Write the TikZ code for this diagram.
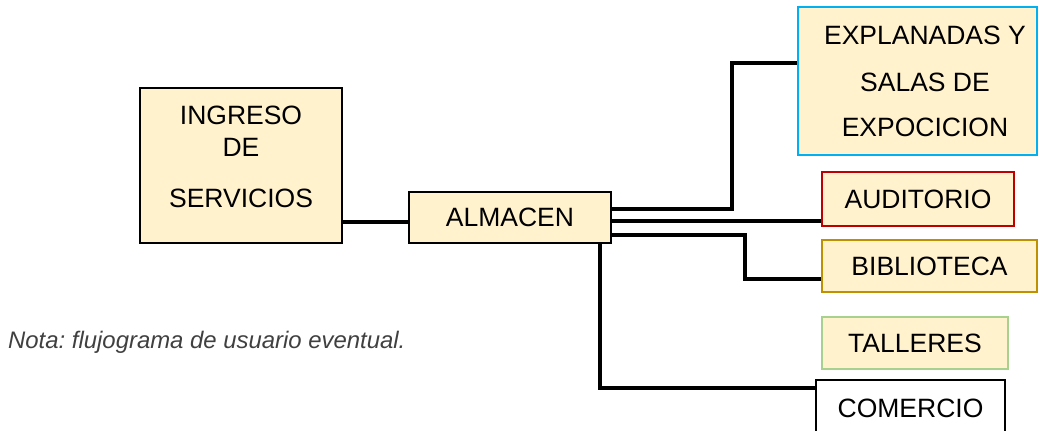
\documentclass[tikz,border=0pt]{standalone}
\usepackage{fontspec}
\setmainfont{Liberation Sans}
\frenchspacing
\definecolor{cream}{HTML}{FFF2CC}
\definecolor{bblue}{HTML}{00B0F0}
\definecolor{bred}{HTML}{C00000}
\definecolor{bgold}{HTML}{BF9000}
\definecolor{bgreen}{HTML}{A9D18E}
\definecolor{notegray}{HTML}{404040}
\begin{document}
\begin{tikzpicture}[x=1pt,y=-1pt,
  box/.style={draw=black,fill=cream,line width=2.6pt,inner sep=0pt,
    font=\fontsize{26.5}{32}\selectfont},
  txt/.style={inner sep=0pt,font=\fontsize{26.5}{32}\selectfont},
  conn/.style={draw=black,line width=3.2pt}]
\useasboundingbox (0,0) rectangle (1039,431);
\begin{scope}
\clip (0,0) rectangle (1039,431);
% boxes
\node[box,minimum width=202pt,minimum height=155pt] (ing) at (241,165.5) {};
\node[txt] (ingt1) at (241,115) {INGRESO};
\node[txt] (ingt2) at (241,147) {DE};
\node[txt] (ingt3) at (241,198) {SERVICIOS};
\node[box,minimum width=202pt,minimum height=51pt] (alm) at (510,217.5) {ALMACEN};
\node[box,draw=bblue,minimum width=239pt,minimum height=148pt] (expl) at (917.5,81) {};
\node[txt] (explt1) at (925,35) {EXPLANADAS Y};
\node[txt] (explt2) at (925,82) {SALAS DE};
\node[txt] (explt3) at (925,127) {EXPOCICION};
\node[box,draw=bred,minimum width=192pt,minimum height=54pt] (aud) at (918,199) {AUDITORIO};
\node[box,draw=bgold,minimum width=215pt,minimum height=52pt] (bib) at (929.5,266) {BIBLIOTECA};
\node[box,draw=bgreen,minimum width=186pt,minimum height=52pt] (tal) at (915,343) {TALLERES};
\node[box,fill=white,minimum width=189pt,minimum height=56pt] (com) at (910.5,408) {COMERCIO};
% connectors
\coordinate (j1) at (732,63);
\coordinate (j3) at (745,279);
\coordinate (j4) at (600,388);
\draw[conn] (ing.east|-0,222) -- (alm.west|-0,222);
\draw[conn] (alm.east|-0,209) -| (j1) -- (expl.west|-j1);
\draw[conn] (alm.east|-0,221) -- (aud.west|-0,221);
\draw[conn] (alm.east|-0,235) -| (j3) -- (bib.west|-j3);
\draw[conn] (alm.south-|j4) -- (j4) -- (com.west|-j4);
\end{scope}
\node[anchor=west,inner sep=0pt,text=notegray,font=\fontsize{23.9}{28}\selectfont\itshape] (nota) at (8,342) {Nota: flujograma de usuario eventual.};
\end{tikzpicture}
\end{document}
